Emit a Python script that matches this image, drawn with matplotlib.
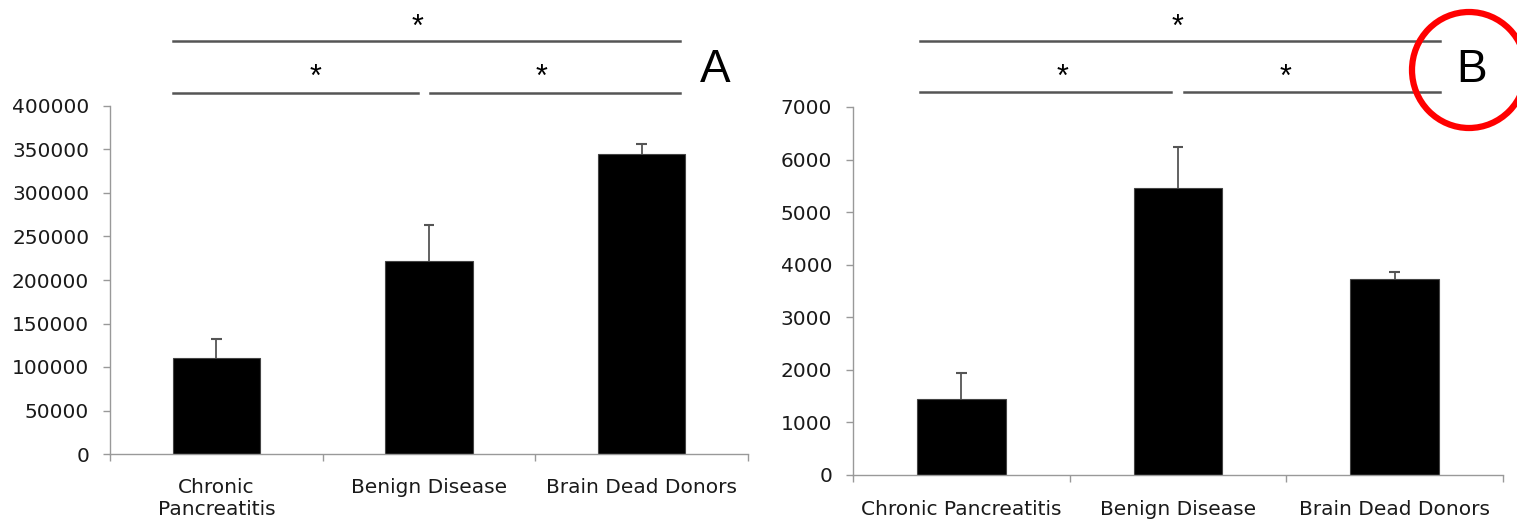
import matplotlib
matplotlib.use("Agg")
import matplotlib.pyplot as plt
from matplotlib.patches import Ellipse
import numpy as np

W, H = 1517, 520
categories_a = ["Chronic\nPancreatitis", "Benign Disease", "Brain Dead Donors"]
categories_b = ["Chronic Pancreatitis", "Benign Disease", "Brain Dead Donors"]
values_a = [110000, 222000, 345000]
errors_a = [22000, 41000, 11000]
values_b = [1450, 5450, 3720]
errors_b = [490, 790, 140]
yticks_a = [0, 50000, 100000, 150000, 200000, 250000, 300000, 350000, 400000]
yticks_b = [0, 1000, 2000, 3000, 4000, 5000, 6000, 7000]

plt.rcParams['font.family'] = ['DejaVu Sans']
fig = plt.figure(figsize=(W / 100, H / 100), dpi=100)

def px_axes(l, r, top, bottom):
    return fig.add_axes([l / W, 1 - bottom / H, (r - l) / W, (bottom - top) / H])

axA = px_axes(110, 748, 106, 454)
axB = px_axes(853, 1503, 107, 475)

def style(ax, cats, vals, errs, yticks, ymax, xpad):
    x = np.arange(len(cats))
    vals = np.array(vals)
    errs = np.array(errs)
    ax.bar(x, vals, width=0.41, color='black', edgecolor='#444444', linewidth=0.8, zorder=2)
    ax.vlines(x, vals, vals + errs, color='#555555', lw=1.3, zorder=1)
    ax.hlines(vals + errs, x - 0.025, x + 0.025, color='#555555', lw=1.5, zorder=1)
    ax.set_xlim(-0.5, len(cats) - 0.5)
    ax.set_ylim(0, ymax)
    ax.set_yticks(yticks)
    ax.set_yticklabels([str(t) for t in yticks], fontsize=14.5, color='#1a1a1a')
    ax.set_xticks(x)
    ax.set_xticklabels(cats, fontsize=14.5, color='#1a1a1a', linespacing=1.25)
    ax.set_xticks(np.arange(-0.5, len(cats)), minor=True)
    ax.tick_params(axis='x', which='major', length=0, pad=xpad)
    ax.tick_params(axis='x', which='minor', length=5, color='#999999', width=1)
    ax.tick_params(axis='y', length=5, color='#999999', width=1, pad=10)
    for s in ['top', 'right']:
        ax.spines[s].set_visible(False)
    for s in ['left', 'bottom']:
        ax.spines[s].set_color('#999999')
        ax.spines[s].set_linewidth(1)
    ax.set_facecolor('none')

style(axA, categories_a, values_a, errors_a, yticks_a, 400000, 17)
style(axB, categories_b, values_b, errors_b, yticks_b, 7000, 18)

def sig(ax, top, low1, low2, ytop, ylow, stars, ystar_top, ystar_low):
    tr = ax.get_xaxis_transform()
    kw = dict(color='#555555', lw=1.8, transform=tr, clip_on=False)
    ax.plot(top, [ytop, ytop], **kw)
    ax.plot(low1, [ylow, ylow], **kw)
    ax.plot(low2, [ylow, ylow], **kw)
    tk = dict(transform=tr, ha='center', va='center', fontsize=22, color='black',
              family='Liberation Sans', clip_on=False)
    ax.text(stars[0], ystar_top, '*', **tk)
    ax.text(stars[1], ystar_low, '*', **tk)
    ax.text(stars[2], ystar_low, '*', **tk)

sig(axA, [-0.204, 2.18], [-0.204, 0.948], [1.005, 2.18], 1.187, 1.037,
    [0.948, 0.464, 1.527], 1.225, 1.082)
sig(axB, [-0.191, 2.209], [-0.191, 0.968], [1.028, 2.209], 1.179, 1.041,
    [1.0, 0.469, 1.498], 1.216, 1.079)

axA.text(0.948, 1.103, 'A', transform=axA.transAxes, ha='center', va='center',
         fontsize=33, family='Liberation Sans', color='black', clip_on=False)
axB.text(0.951, 1.10, 'B', transform=axB.transAxes, ha='center', va='center',
         fontsize=33, family='Liberation Sans', color='black', clip_on=False)

circ = Ellipse((1469 / W, 1 - 70 / H), 114 / W, 116 / H, transform=fig.transFigure,
               fill=False, edgecolor='#ff0000', linewidth=4.5)
fig.patches.append(circ)

fig.savefig('out.png', dpi=100)
